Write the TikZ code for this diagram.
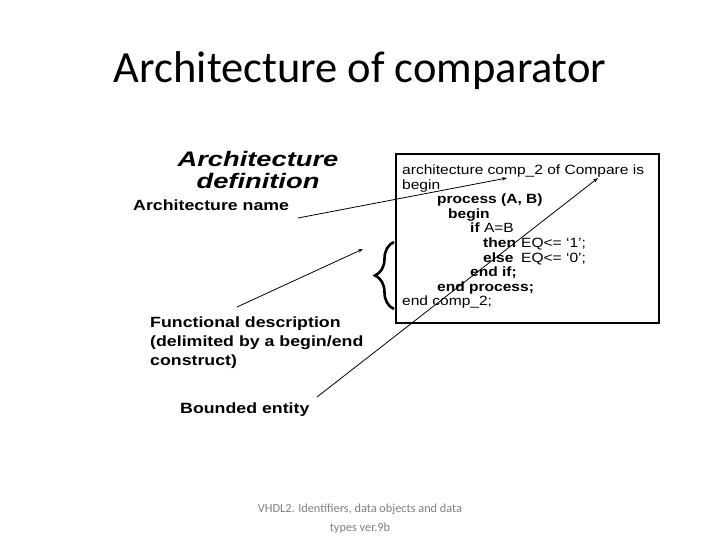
\documentclass[tikz,border=0pt]{standalone}
\usepackage{fontspec}
\usetikzlibrary{arrows.meta,decorations.pathreplacing}
\setmainfont{Carlito}
\newfontfamily\arialw[FakeStretch=1.2]{Liberation Sans}
\newfontfamily\arialv[FakeStretch=1.3]{Liberation Sans}
\newfontfamily\codef[FakeStretch=1.16]{Liberation Sans}
\begin{document}
\begin{tikzpicture}[x=1pt,y=-1pt,
  lbl/.style={anchor=base west,inner sep=0pt,font=\arialw\bfseries\fontsize{14.8}{19}\selectfont,align=left},
  code/.style={anchor=base west,inner sep=0pt,font=\codef\fontsize{13.4}{14}\selectfont},
  codeb/.style={code,font=\codef\bfseries\fontsize{13.4}{14}\selectfont},
  conn/.style={line width=0.8pt,-{Stealth[length=5pt,width=3.5pt]}}]
\useasboundingbox (0,0) rectangle (720,540);
% title
\node[anchor=base,inner sep=0pt,font=\fontsize{44.5}{50}\selectfont] (title) at (360,83) {Architecture of comparator};
% heading
\node[anchor=base,inner sep=0pt,font=\arialv\bfseries\itshape\fontsize{21}{22}\selectfont] (def1) at (258,167) {Architecture};
\node[anchor=base,inner sep=0pt,font=\arialv\bfseries\itshape\fontsize{21}{22}\selectfont] (def2) at (258,189) {definition};
% labels
\node[lbl] (aname) at (133,211) {Architecture name};
\node[lbl] (func1) at (150,327) {Functional description};
\node[lbl] (func2) at (150,346) {(delimited by a begin/end};
\node[lbl] (func3) at (150,365) {construct)};
\node[lbl] (bound) at (180,413) {Bounded entity};
% code box
\draw[line width=1.2pt] (396,154) rectangle (659,323);
\node[code] (c1) at (402,174.5) {architecture comp\_2 of Compare is};
\node[code] (c2) at (402,189.1) {begin};
\node[codeb] (c3) at (437,203.7) {process (A, B)};
\node[codeb] (c4) at (448,218.3) {begin};
\node[codeb] (c5) at (470,232.9) {if {\mdseries A=B}};
\node[codeb] (c6) at (483,247.5) {then};
\node[code] (c6b) at (521,247.5) {EQ<= ‘1’;};
\node[codeb] (c7) at (483,262.1) {else};
\node[code] (c7b) at (521,262.1) {EQ<= ‘0’;};
\node[codeb] (c8) at (470,276.7) {end if;};
\node[codeb] (c9) at (437,291.3) {end process;};
\node[code] (c10) at (402,305.9) {end comp\_2;};
% brace
\draw[line width=2.6pt,decorate,decoration={brace,amplitude=19pt,aspect=0.5}] (394,309) -- (394,242);
% connectors
\coordinate (s1) at (298,218);
\coordinate (e1) at (507,178);
\coordinate (s2) at (237,307);
\coordinate (e2) at (363,249);
\coordinate (s3) at (317,397);
\coordinate (e3) at (598,178);
\draw[conn] (s1) -- (e1);
\draw[conn] (s2) -- (e2);
\draw[conn] (s3) -- (e3);
% footer
\node[anchor=base,inner sep=0pt,text=black!50,font=\fontsize{12.3}{13}\selectfont] (f1) at (360,512) {VHDL2. Identifiers, data objects and data};
\node[anchor=base,inner sep=0pt,text=black!50,font=\fontsize{12.3}{13}\selectfont] (f2) at (360,531) {types ver.9b};
\end{tikzpicture}
\end{document}
